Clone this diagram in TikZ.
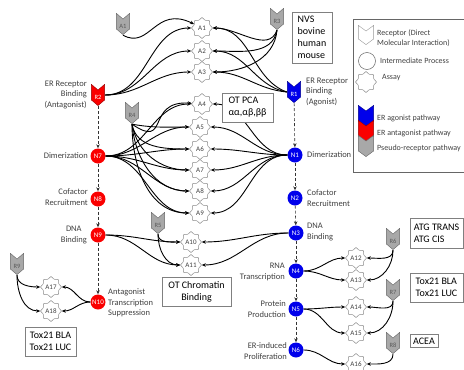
\documentclass[tikz,border=0pt]{standalone}
\usepackage{fontspec}
\setmainfont{Carlito}
\usepackage{tikz}
\usetikzlibrary{shapes.geometric,arrows.meta}

\definecolor{agonist}{RGB}{0,0,235}
\definecolor{antagonist}{RGB}{250,0,0}
\definecolor{pseudo}{RGB}{168,168,168}
\definecolor{labelgray}{RGB}{64,64,64}

\tikzset{
  receptor/.style={minimum width=14pt, minimum height=22pt, inner sep=0pt,
    text height=8pt, text depth=0pt, text=white, font=\fontsize{6.5}{6.5}\selectfont,
    path picture={
      \draw[draw=#1!60!black, fill=#1]
        ([shift={(.4pt,-.4pt)}]path picture bounding box.north west)
        -- ([yshift=-6pt]path picture bounding box.north)
        -- ([shift={(-.4pt,-.4pt)}]path picture bounding box.north east)
        -- ([shift={(-.4pt,6pt)}]path picture bounding box.south east)
        -- ([yshift=.4pt]path picture bounding box.south)
        -- ([shift={(.4pt,6pt)}]path picture bounding box.south west) -- cycle;
    }},
  assay/.style={star, star points=8, star point ratio=1.25, draw=black!45, fill=white,
    line width=0.5pt, inner sep=0pt, minimum size=21pt, text=black!75,
    font=\fontsize{7}{7}\selectfont},
  process/.style={circle, fill=#1, inner sep=0pt, minimum size=15pt, text=white,
    font=\fontsize{7}{7}\selectfont},
  lbl/.style={inner sep=1pt, text=labelgray, font=\fontsize{8.5}{10.5}\selectfont},
  keytext/.style={inner sep=1pt, anchor=west, align=left, text=labelgray,
    font=\fontsize{8}{9.5}\selectfont},
  infobox/.style={draw=black!50, fill=white, line width=0.6pt, inner sep=3pt,
    font=\fontsize{10}{12}\selectfont},
  link/.style={line width=0.9pt, -{Stealth[length=4pt,width=3.5pt]}},
  stepline/.style={line width=0.6pt, densely dashed, black!80, -{Stealth[length=4pt,width=3.5pt]}}
}

\begin{document}
\begin{tikzpicture}[x=1pt,y=1pt]
  \useasboundingbox (0,0) rectangle (464,-370);

  % receptors
  \node[receptor=pseudo, text=black!65] (ra1) at (123,-24) {A1};
  \node[receptor=antagonist] (r2) at (98,-95) {R2};
  \node[receptor=pseudo, text=black!65] (r3) at (277,-19) {R3};
  \node[receptor=agonist] (r1) at (294,-92) {R1};
  \node[receptor=pseudo, text=black!65] (r4) at (132,-113) {R4};
  \node[receptor=pseudo, text=black!65] (r5) at (158,-223) {R5};
  \node[receptor=pseudo, text=black!65] (r6) at (393,-239) {R6};
  \node[receptor=pseudo, text=black!65] (r7) at (393,-290) {R7};
  \node[receptor=pseudo, text=black!65] (r8) at (393,-343) {R8};
  \node[receptor=pseudo, text=black!65] (r9) at (17,-264) {R9};

  % processes
  \node[process=antagonist] (n7) at (98,-156) {N7};
  \node[process=antagonist] (n8) at (98,-199) {N8};
  \node[process=antagonist] (n9) at (98,-235) {N9};
  \node[process=antagonist] (n10) at (98,-302) {N10};
  \node[process=agonist] (n1) at (295,-155) {N1};
  \node[process=agonist] (n2) at (295,-198) {N2};
  \node[process=agonist] (n3) at (296,-233) {N3};
  \node[process=agonist] (n4) at (296,-271) {N4};
  \node[process=agonist] (n5) at (296,-309) {N5};
  \node[process=agonist] (n6) at (296,-350) {N6};

  % assays
  \node[assay] (a1) at (202,-28) {A1};
  \node[assay] (a2) at (202,-51) {A2};
  \node[assay] (a3) at (202,-72) {A3};
  \node[assay] (a4) at (202,-104) {A4};
  \node[assay] (a5) at (200,-127) {A5};
  \node[assay] (a6) at (200,-149) {A6};
  \node[assay] (a7) at (200,-170) {A7};
  \node[assay] (a8) at (200,-191) {A8};
  \node[assay] (a9) at (200,-213) {A9};
  \node[assay] (a10) at (191,-242) {A10};
  \node[assay] (a11) at (191,-265) {A11};
  \node[assay] (a12) at (356,-258) {A12};
  \node[assay] (a13) at (356,-280) {A13};
  \node[assay] (a14) at (356,-307) {A14};
  \node[assay] (a15) at (356,-333) {A15};
  \node[assay] (a16) at (356,-364) {A16};
  \node[assay] (a17) at (51,-287) {A17};
  \node[assay] (a18) at (51,-311) {A18};

  % pathway steps
  \draw[stepline] (r2) -- (n7);
  \draw[stepline] (n7) -- (n8);
  \draw[stepline] (n8) -- (n9);
  \draw[stepline] (n9) -- (n10);
  \draw[stepline] (r1) -- (n1);
  \draw[stepline] (n1) -- (n2);
  \draw[stepline] (n2) -- (n3);
  \draw[stepline] (n3) -- (n4);
  \draw[stepline] (n4) -- (n5);
  \draw[stepline] (n5) -- (n6);

  % NVS binding assays
  \draw[link] (ra1.south) .. controls (150,-50) and (155,-5) .. (a1); % A1-A1
  \draw[link] (r2.east) to[out=0,in=180] (a1); % R2-A1
  \draw[link] (r2.east) to[out=0,in=180] (a2); % R2-A2
  \draw[link] (r2.east) to[out=0,in=180] (a3); % R2-A3
  \draw[link] (r3.south) to[out=-110,in=0] (a1); % R3-A1
  \draw[link] (r3.south) to[out=-100,in=0] (a2); % R3-A2
  \draw[link] (r3.south) to[out=-95,in=0] (a3); % R3-A3
  \draw[link] (r1.west) to[out=160,in=0] (a1); % R1-A1
  \draw[link] (r1.west) to[out=170,in=0] (a2); % R1-A2
  \draw[link] (r1.west) to[out=175,in=0] (a3); % R1-A3

  % OT PCA assays
  \draw[link] (r4.south) .. controls (170,-150) and (145,-100) .. (a4); % R4-A4
  \draw[link] (r4.south) to[out=-10,in=180] (a5); % R4-A5
  \draw[link] (r4.south) to[out=-80,in=180] (a6); % R4-A6
  \draw[link] (r4.south) to[out=-80,in=180] (a7); % R4-A7
  \draw[link] (r4.south) to[out=-85,in=180] (a8); % R4-A8
  \draw[link] (r4.south) to[out=-90,in=180] (a9); % R4-A9
  \draw[link] (n7.east) to[out=0,in=180] (a4); % N7-A4
  \draw[link] (n7.east) to[out=0,in=180] (a5); % N7-A5
  \draw[link] (n7.east) to[out=0,in=180] (a6); % N7-A6
  \draw[link] (n7.east) to[out=0,in=180] (a7); % N7-A7
  \draw[link] (n7.east) to[out=0,in=180] (a8); % N7-A8
  \draw[link] (n7.east) to[out=0,in=180] (a9); % N7-A9
  \draw[link] (n1.west) to[out=180,in=0] (a4); % N1-A4
  \draw[link] (n1.west) to[out=180,in=0] (a5); % N1-A5
  \draw[link] (n1.west) to[out=180,in=0] (a6); % N1-A6
  \draw[link] (n1.west) to[out=180,in=0] (a7); % N1-A7
  \draw[link] (n1.west) to[out=180,in=0] (a8); % N1-A8
  \draw[link] (n1.west) to[out=180,in=0] (a9); % N1-A9

  % OT chromatin binding assays
  \draw[link] (r5.south) to[out=-90,in=180] (a10); % R5-A10
  \draw[link] (r5.south) to[out=-90,in=180] (a11); % R5-A11
  \draw[link] (n9.east) to[out=0,in=180] (a10); % N9-A10
  \draw[link] (n9.east) to[out=0,in=180] (a11); % N9-A11
  \draw[link] (n3.west) to[out=180,in=0] (a10); % N3-A10
  \draw[link] (n3.west) to[out=180,in=0] (a11); % N3-A11

  % transcription, production, proliferation assays
  \draw[link] (n4.east) to[out=0,in=180] (a12); % N4-A12
  \draw[link] (n4.east) to[out=0,in=180] (a13); % N4-A13
  \draw[link] (r6.south) to[out=-90,in=0] (a12); % R6-A12
  \draw[link] (r6.south) to[out=-90,in=0] (a13); % R6-A13
  \draw[link] (n5.east) to[out=0,in=180] (a14); % N5-A14
  \draw[link] (n5.east) to[out=0,in=180] (a15); % N5-A15
  \draw[link] (r7.south) to[out=-90,in=0] (a14); % R7-A14
  \draw[link] (r7.south) to[out=-90,in=0] (a15); % R7-A15
  \draw[link] (n6.east) to[out=0,in=180] (a16); % N6-A16
  \draw[link] (r8.south) to[out=-90,in=0] (a16); % R8-A16
  \draw[link] (n10.west) to[out=180,in=0] (a17); % N10-A17
  \draw[link] (n10.west) to[out=180,in=0] (a18); % N10-A18
  \draw[link] (r9.south) to[out=-90,in=180] (a17); % R9-A17
  \draw[link] (r9.south) to[out=-90,in=180] (a18); % R9-A18

  % step labels
  \node[lbl, anchor=east, align=right] (lr2) at (88,-95) {ER Receptor\\Binding\\(Antagonist)};
  \node[lbl, anchor=east] (ln7) at (89,-156) {Dimerization};
  \node[lbl, anchor=east, align=right] (ln8) at (89,-197) {Cofactor\\Recruitment};
  \node[lbl, anchor=east, align=center] (ln9) at (88,-235) {DNA\\Binding};
  \node[lbl, anchor=west, align=left] (ln10) at (107,-303) {Antagonist\\Transcription\\Suppression};
  \node[lbl, anchor=west, align=left] (lr1) at (305,-92) {ER Receptor\\Binding\\(Agonist)};
  \node[lbl, anchor=west] (ln1) at (306,-155) {Dimerization};
  \node[lbl, anchor=west, align=left] (ln2) at (306,-198) {Cofactor\\Recruitment};
  \node[lbl, anchor=west, align=left] (ln3) at (306,-232) {DNA\\Binding};
  \node[lbl, anchor=east, align=right] (ln4) at (286,-272) {RNA\\Transcription};
  \node[lbl, anchor=east, align=right] (ln5) at (287,-309) {Protein\\Production};
  \node[lbl, anchor=east, align=right] (ln6) at (288,-351) {ER-induced\\Proliferation};

  % assay sources
  \node[infobox, minimum width=40pt, minimum height=51pt, align=left] (nvs) at (312,-37.5) {NVS\\bovine\\human\\mouse};
  \node[infobox, minimum width=51pt, minimum height=29pt, align=left] (otpca) at (247.5,-107.5) {OT PCA\\αα,αβ,ββ};
  \node[infobox, minimum width=69pt, minimum height=29pt, align=center] (otchrom) at (196.5,-291.5) {OT Chromatin\\Binding};
  \node[infobox, minimum width=51pt, minimum height=29pt, align=center] (toxleft) at (50.5,-341.5) {Tox21 BLA\\Tox21 LUC};
  \node[infobox, minimum width=53pt, minimum height=30pt, align=left] (atg) at (436.5,-233) {ATG TRANS\\ATG CIS};
  \node[infobox, minimum width=53pt, minimum height=29pt, align=left] (toxright) at (436.5,-287.5) {Tox21 BLA\\Tox21 LUC};
  \node[infobox] (acea) at (424,-341) {ACEA};

  % legend
  \draw[black!60, line width=0.6pt] (353,-19) rectangle (480,-172);
  \node[receptor=white, minimum width=16pt, minimum height=20pt] (keyrec) at (366,-35) {};
  \node[keytext] (keyrectxt) at (376,-38) {Receptor (Direct\\Molecular Interaction)};
  \node[circle, draw=black!60, line width=0.5pt, minimum size=17pt] (keyproc) at (367,-61) {};
  \node[keytext] (keyproctxt) at (379,-61) {Intermediate Process};
  \node[assay] (keyassay) at (366,-82) {};
  \node[keytext] (keyassaytxt) at (381,-78) {Assay};
  \node[receptor=agonist, minimum width=16pt, minimum height=22pt] (keyago) at (366,-116) {};
  \node[keytext] (keyagotxt) at (376,-118) {ER agonist pathway};
  \node[receptor=antagonist, minimum width=16pt, minimum height=22pt] (keyant) at (366,-131) {};
  \node[keytext] (keyanttxt) at (376,-133) {ER antagonist pathway};
  \node[receptor=pseudo, minimum width=16pt, minimum height=22pt] (keypse) at (366,-146) {};
  \node[keytext] (keypsetxt) at (376,-148) {Pseudo-receptor pathway};
\end{tikzpicture}
\end{document}
